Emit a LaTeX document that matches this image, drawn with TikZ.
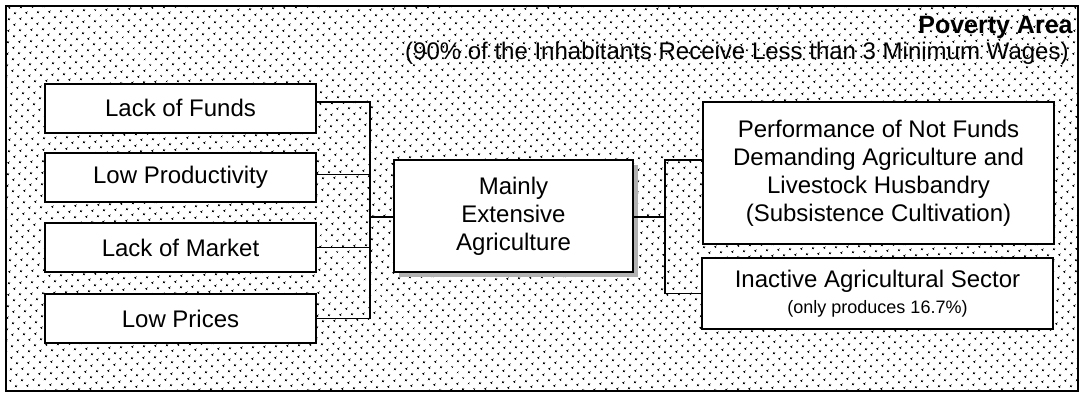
\documentclass[tikz,border=0pt]{standalone}
\usepackage{fontspec}
\setmainfont{Liberation Sans}
\usetikzlibrary{patterns.meta,shadows}

\tikzset{
    cause/.style={draw, line width=1pt, fill=white, minimum width=135.5pt, minimum height=24.5pt,
        inner sep=0pt, font=\fontsize{12}{14}\selectfont},
    effect/.style={draw, line width=1pt, fill=white, minimum width=175.5pt, inner sep=0pt,
        align=center, font=\fontsize{12}{14}\selectfont},
    link/.style={line width=0.7pt},
}

\begin{document}
\begin{tikzpicture}[x=0.5pt, y=-0.5pt]
    \useasboundingbox (0,0) rectangle (1080,393);
    % dotted area
    \draw[line width=1pt, fill=white, pattern={Dots[distance=4pt, radius=0.65pt, angle=45]}]
        (6,6) rectangle (1078,391);
    \node[anchor=base east, inner sep=0pt, font=\bfseries\fontsize{12.5}{15}\selectfont]
        (title) at (1073,33) {Poverty Area};
    \node[anchor=base east, inner sep=0pt, font=\fontsize{12}{14}\selectfont]
        (subtitle) at (1069,59) {(90\% of the Inhabitants Receive Less than 3 Minimum Wages)};

    % causes
    \coordinate (lbus) at (370,217);
    \foreach \i/\y/\txt in {1/108/Lack of Funds, 2/177.5/Low Productivity,
                            3/247.5/Lack of Market, 4/318.5/Low Prices} {
        \node[cause] (c\i) at (180.5,\y) {\txt};
    }
    \draw[link] ([yshift=3pt]c1.east) -- ([yshift=3pt]c1.east -| lbus) -- (c4.east -| lbus) -- (c4.east);
    \draw[link] ([yshift=1.5pt]c2.east) -- ([yshift=1.5pt]c2.east -| lbus);
    \draw[link] (c3.east) -- (c3.east -| lbus);

    % centre
    \node[draw, line width=1pt, fill=white, minimum width=119.5pt, minimum height=56pt,
        inner sep=0pt, align=center, font=\fontsize{12}{14}\selectfont,
        drop shadow={shadow xshift=2.5pt, shadow yshift=-2.5pt, fill=gray!60, opacity=1}]
        (main) at (513.5,216) {Mainly\\Extensive\\Agriculture};
    \draw[link] (lbus) -- (lbus -| main.west);

    % effects
    \node[effect, minimum height=71pt] (perf) at (878.5,173)
        {Performance of Not Funds\\Demanding Agriculture and\\Livestock Husbandry\\(Subsistence Cultivation)};
    \node[effect, minimum height=35.5pt] (idle) at (877.5,293.5)
        {Inactive Agricultural Sector\\[-1pt]{\fontsize{9}{11}\selectfont (only produces 16.7\%)}};
    \coordinate (rbus) at (665,217);
    \draw[link] (main.east |- rbus) -- (rbus);
    \draw[link] ([yshift=6.5pt]perf.west) -- ([yshift=6.5pt]perf.west -| rbus) -- (idle.west -| rbus) -- (idle.west);
\end{tikzpicture}
\end{document}
